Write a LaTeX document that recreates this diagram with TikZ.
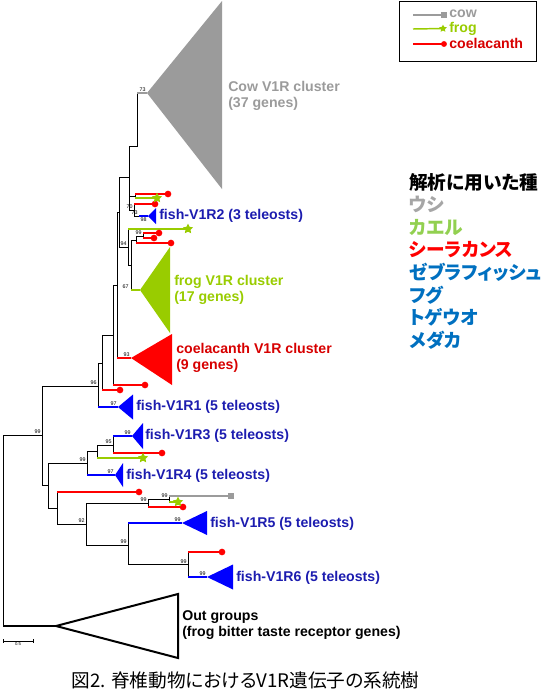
\documentclass[tikz,border=0pt]{standalone}
\usepackage{fontspec}
\setsansfont{Liberation Sans}
\newfontfamily\jpfont{Noto Sans CJK JP}[RawFeature=+palt]
\usetikzlibrary{shapes.geometric, calc}

\definecolor{cowgrey}{RGB}{155,155,155}
\definecolor{froggreen}{RGB}{153,204,0}
\definecolor{coelred}{RGB}{255,0,0}
\definecolor{coeltext}{RGB}{215,0,0}
\definecolor{fishblue}{RGB}{0,0,255}
\definecolor{fishtext}{RGB}{28,28,175}
\definecolor{ushigrey}{RGB}{166,166,166}
\definecolor{kaerugreen}{RGB}{146,208,80}
\definecolor{sakanablue}{RGB}{0,112,192}

% black stem of the parent, then the coloured leaf branch
\newcommand{\leaf}[3]{%
  \draw[stem] (#2) -- (#2 |- #3);
  \draw[#1] (#2 |- #3) -- (#3);}

\begin{document}
\begin{tikzpicture}[
    x=0.75pt, y=-0.75pt,
    % --- STYLES ---
    stem/.style={line width=0.75pt, black},
    ogline/.style={line width=1.5pt, black},
    redleaf/.style={line width=1.5pt, draw=coelred},
    frogleaf/.style={line width=1.5pt, draw=froggreen},
    cowleaf/.style={line width=1.2pt, draw=cowgrey},
    fishleaf/.style={line width=1.5pt, draw=fishblue},
    fstar/.style={star, star points=5, star point ratio=2.0, fill=froggreen, draw=none, inner sep=0pt, minimum size=8pt},
    bs/.style={font=\sffamily\fontsize{4}{4}\selectfont, inner sep=0.8pt},
    clabel/.style={anchor=west, inner sep=0pt, align=left, font=\sffamily\bfseries\fontsize{10.6}{12}\selectfont},
    jp/.style={anchor=west, inner sep=0pt, font=\jpfont\bfseries\fontsize{14}{17}\selectfont}
]
\useasboundingbox (0,0) rectangle (551,690);

% ==========================================
% TREE NODES
% ==========================================
\coordinate (r0) at (3,530.5);
\coordinate[label={[bs]above left:99}] (n1) at (42,435);
\coordinate[label={[bs]above left:96}] (n2) at (98,386);
\coordinate (n13) at (102,363);
\coordinate (n14) at (113,335);
\coordinate (n15) at (117,285);
\coordinate (n16) at (119,212);
\coordinate (n17) at (129,177);
\coordinate (cowbase) at (137,146);
\coordinate (n26) at (135,196);
\coordinate[label={[bs]above left:70}] (n19) at (134,210);
\coordinate[label={[bs]above left:73}] (n20) at (139,216);
\coordinate[label={[bs]above left:94}] (n22) at (128,247);
\coordinate (n23) at (131,265);
\coordinate (n24) at (136,240);
\coordinate[label={[bs]above left:99}] (n25) at (143,236);
\coordinate (n3) at (48,485);
\coordinate[label={[bs]above left:99}] (n4) at (87,463);
\coordinate (n5) at (97,451);
\coordinate[label={[bs]above left:95}] (n6) at (113,445);
\coordinate (n7) at (57,508);
\coordinate[label={[bs]above left:92}] (n8) at (86,524);
\coordinate[label={[bs]above left:99}] (n9) at (148,503);
\coordinate[label={[bs]above left:99}] (n10) at (169,499);
\coordinate[label={[bs]above left:99}] (n11) at (128,545);
\coordinate[label={[bs]above left:99}] (n12) at (188,564.5);

% collapsed clusters (apex of each fan)
\coordinate[label={[bs]above left:73}] (cow) at (147,93);
\coordinate[label={[bs, xshift=-7.5pt]above left:67}] (frog) at (140,290);
\coordinate[label={[bs]above left:93}] (coel) at (131,358);
\coordinate[label={[bs]below left:98}] (v1r2) at (148,216);
\coordinate[label={[bs]above left:97}] (v1r1) at (118,407);
\coordinate[label={[bs]above left:99}] (v1r3) at (132,436);
\coordinate[label={[bs]above left:97}] (v1r4) at (115,475);
\coordinate[label={[bs]above left:99}] (v1r5) at (182,523);
\coordinate[label={[bs]above left:99}] (v1r6) at (207,577);
\coordinate (og) at (56,626);

% single genes (marker centres)
\coordinate (r194) at (168,194);
\coordinate (g198) at (157,198);
\coordinate (r204) at (155,204);
\coordinate (g229) at (188,229);
\coordinate (r233) at (159,233);
\coordinate (r238) at (154,238);
\coordinate (r243) at (171,243);
\coordinate (r385) at (145,385);
\coordinate (r390) at (120,390);
\coordinate (r453) at (162,453);
\coordinate (g458) at (143,458);
\coordinate (r492) at (139,492);
\coordinate (q496) at (231,496);
\coordinate (g502) at (178,502);
\coordinate (r507) at (183,507);
\coordinate (r552) at (222,552);

% ==========================================
% BRANCHES
% ==========================================
\draw[stem] (r0) |- (n1);
\draw[stem] (n1) |- (n2);
\draw[stem] (n1) |- (n3);

% upper part
\draw[stem] (n2) |- (n13);
\leaf{fishleaf}{n2}{v1r1}
\draw[stem] (n13) |- (n14);
\leaf{redleaf}{n13}{r390}
\draw[stem] (n14) |- (n15);
\leaf{redleaf}{n14}{r385}
\draw[stem] (n15) |- (n16);
\leaf{redleaf}{n15}{coel}
\draw[stem] (n16) |- (n17);
\draw[stem] (n16) |- (n22);
\draw[stem] (n17) |- (cowbase) -- (cowbase |- cow);
\draw[cowleaf] (cowbase |- cow) -- (cow);
\draw[stem] (n17) |- (n26);
\draw[stem] (n17) |- (n19);
\leaf{redleaf}{n26}{r194}
\leaf{frogleaf}{n26}{g198}
\leaf{redleaf}{n19}{r204}
\draw[stem] (n19) |- (n20);
\leaf{fishleaf}{n20}{v1r2}
\leaf{frogleaf}{n22}{g229}
\draw[stem] (n22) |- (n23);
\draw[stem] (n23) |- (n24);
\leaf{frogleaf}{n23}{frog}
\draw[stem] (n24) |- (n25);
\leaf{redleaf}{n24}{r243}
\leaf{redleaf}{n25}{r233}
\leaf{redleaf}{n25}{r238}

% lower part
\draw[stem] (n3) |- (n4);
\draw[stem] (n3) |- (n7);
\draw[stem] (n4) |- (n5);
\leaf{fishleaf}{n4}{v1r4}
\draw[stem] (n5) |- (n6);
\leaf{frogleaf}{n5}{g458}
\leaf{fishleaf}{n6}{v1r3}
\leaf{redleaf}{n6}{r453}
\leaf{redleaf}{n7}{r492}
\draw[stem] (n7) |- (n8);
\draw[stem] (n8) |- (n9);
\draw[stem] (n8) |- (n11);
\draw[stem] (n9) |- (n10);
\leaf{redleaf}{n9}{r507}
\leaf{cowleaf}{n10}{q496}
\leaf{frogleaf}{n10}{g502}
\leaf{fishleaf}{n11}{v1r5}
\draw[stem] (n11) |- (n12);
\leaf{redleaf}{n12}{r552}
\leaf{fishleaf}{n12}{v1r6}

% outgroup
\draw[stem] (r0) -- (r0 |- og);
\draw[ogline] (r0 |- og) -- (og);
\draw[ogline, fill=white] (og) -- ++(122,-32) -- ++(0,64) -- cycle;

% fans
\fill[cowgrey] (cow) -- ++(75,-92) -- ++(0,188) -- cycle;
\fill[froggreen] (frog) -- ++(30,-43) -- ++(0,86) -- cycle;
\fill[coelred] (coel) -- ++(41,-24) -- ++(0,51) -- cycle;
\fill[fishblue] (v1r2) -- ++(8,-8) -- ++(0,16) -- cycle;
\fill[fishblue] (v1r1) -- ++(15,-12.5) -- ++(0,25) -- cycle;
\fill[fishblue] (v1r3) -- ++(11,-13) -- ++(0,26) -- cycle;
\fill[fishblue] (v1r4) -- ++(8,-12) -- ++(0,24) -- cycle;
\fill[fishblue] (v1r5) -- ++(25,-12) -- ++(0,24) -- cycle;
\fill[fishblue] (v1r6) -- ++(26,-12.5) -- ++(0,25) -- cycle;

% markers
\foreach \d in {r194,r204,r233,r238,r243,r385,r390,r453,r492,r507,r552}
  \fill[coelred] (\d) circle[radius=2.5pt];
\fill[cowgrey] ($(q496)+(-2.2pt,-2.2pt)$) rectangle ++(4.4pt,4.4pt);
\node[fstar] (st1) at (g198) {};
\node[fstar] (st2) at (g229) {};
\node[fstar] (st3) at (g458) {};
\node[fstar] (st4) at (g502) {};

% ==========================================
% LABELS
% ==========================================
\node[clabel, text=cowgrey] (cowtxt) at (228,96) {Cow V1R cluster\\(37 genes)};
\node[clabel, text=fishtext] (v1r2txt) at (159,216) {fish-V1R2 (3 teleosts)};
\node[clabel, text=froggreen] (frogtxt) at (174,290) {frog V1R cluster\\(17 genes)};
\node[clabel, text=coeltext] (coeltxt) at (176,358) {coelacanth V1R cluster\\(9 genes)};
\node[clabel, text=fishtext] (v1r1txt) at (136,407) {fish-V1R1 (5 teleosts)};
\node[clabel, text=fishtext] (v1r3txt) at (145,436) {fish-V1R3 (5 teleosts)};
\node[clabel, text=fishtext] (v1r4txt) at (126,476) {fish-V1R4 (5 teleosts)};
\node[clabel, text=fishtext] (v1r5txt) at (210,524) {fish-V1R5 (5 teleosts)};
\node[clabel, text=fishtext] (v1r6txt) at (236,578) {fish-V1R6 (5 teleosts)};
\node[clabel] (ogtxt) at (182,625) {Out groups\\(frog bitter taste receptor genes)};

% scale bar
\coordinate (sb1) at (3,641);
\coordinate (sb2) at (33,641);
\draw[stem, line width=0.5pt] (sb1) -- (sb2) (sb1) ++(0,-2) -- ++(0,4) (sb2) ++(0,-2) -- ++(0,4);
\node[bs, font=\sffamily\fontsize{3.2}{3.2}\selectfont, below=0.5pt] (sbtxt) at ($(sb1)!0.5!(sb2)$) {0.5};

% ==========================================
% LEGEND
% ==========================================
\coordinate (lq) at (444,15);
\coordinate (ls) at (443,28.5);
\coordinate (ld) at (444,44);
\draw[line width=0.75pt] (399,1) rectangle (536,61);
\draw[cowleaf, line width=1.1pt] (413,15) -- (lq);
\fill[cowgrey] ($(lq)+(-2pt,-2pt)$) rectangle ++(4pt,4pt);
\draw[frogleaf, line width=1.1pt] (413,29) -- (ls);
\node[fstar, minimum size=6pt] (lstar) at (ls) {};
\draw[redleaf, line width=1.1pt] (413,44) -- (ld);
\fill[coelred] (ld) circle[radius=2.2pt];
\node[clabel, text=cowgrey] (lcow) at (449,14) {cow};
\node[clabel, text=froggreen] (lfrog) at (449,29) {frog};
\node[clabel, text=coeltext] (lcoel) at (449,43.5) {coelacanth};

% species used
\foreach \name/\col [count=\i from 0] in {解析に用いた種/black, ウシ/ushigrey, カエル/kaerugreen, シーラカンス/coelred, ゼブラフィッシュ/sakanablue, フグ/sakanablue, トゲウオ/sakanablue, メダカ/sakanablue}
  \node[jp, text=\col] (sp\i) at (409,{182+22.6*\i}) {\name};

% caption
\node[inner sep=0pt, font=\jpfont\fontsize{14}{17}\selectfont] (caption) at (245.5,680) {図2. 脊椎動物におけるV1R遺伝子の系統樹};

\end{tikzpicture}
\end{document}
